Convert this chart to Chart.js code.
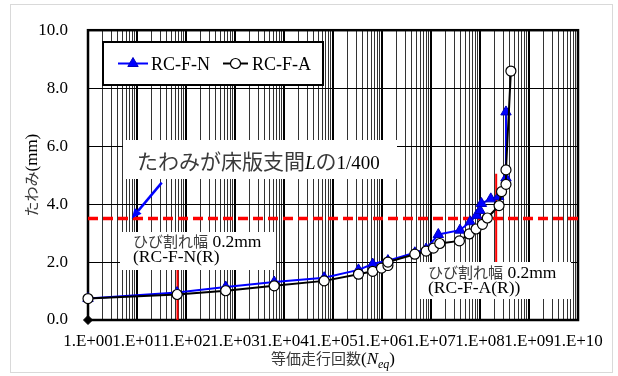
<!DOCTYPE html>
<html>
<head>
<meta charset="utf-8">
<script src="https://cdn.jsdelivr.net/npm/chart.js@4.4.1/dist/chart.umd.min.js"></script>
<style>
html,body{margin:0;padding:0;background:#fff}
#wrap{width:618px;height:376px}
canvas{display:block}
</style>
</head>
<body>
<div id="wrap"><canvas id="c" width="618" height="376"></canvas></div>
<script>
// Deflection vs. equivalent number of passes for two RC deck specimens
const seriesNames = ['RC-F-N', 'RC-F-A'];

const rcfnCycles = [1, 66, 646, 6310, 66100, 331000, 646000, 1.32e6, 4.68e6, 7.94e6,
  1.41e7, 3.9e7, 6.3e7, 8.5e7, 1.0e8, 1.07e8, 1.66e8, 2.4e8, 3.39e8, 3.39e8];
const rcfnDeflection = [0.74, 0.95, 1.14, 1.31, 1.46, 1.73, 1.93, 2.05, 2.32, 2.45,
  2.95, 3.10, 3.39, 3.61, 3.78, 4.02, 4.18, 4.26, 4.90, 7.18];

const rcfaCycles = [1, 66, 646, 6310, 66100, 331000, 646000, 977000, 1.32e6, 1.32e6,
  4.68e6, 7.94e6, 1.12e7, 1.51e7, 3.8e7, 6.03e7, 8.32e7, 1.12e8, 1.41e8, 2.45e8,
  2.75e8, 3.39e8, 3.39e8, 4.27e8];
const rcfaDeflection = [0.74, 0.88, 1.01, 1.18, 1.35, 1.58, 1.68, 1.79, 1.88, 2.00,
  2.27, 2.38, 2.48, 2.64, 2.73, 2.97, 3.14, 3.30, 3.52, 3.95,
  4.43, 4.68, 5.18, 8.59];

const xTickLabels = ['1.E+00', '1.E+01', '1.E+02', '1.E+03', '1.E+04', '1.E+05',
  '1.E+06', '1.E+07', '1.E+08', '1.E+09', '1.E+10'];
const yTickLabels = ['0.0', '2.0', '4.0', '6.0', '8.0', '10.0'];

// deflection limit: span L / 400
const limitDeflection = 3.5;
// 0.2 mm crack width reached (cycles, deflection range of the marker line)
const crackN = { cycles: 67, from: 0, to: 2.5 };
const crackA = { cycles: 2.14e8, from: 2.0, to: 5.05 };
// arrow pointing at the limit line (cycles, deflection)
const arrowFrom = [32, 4.74];
const arrowTo = [7.8, 3.5];

const SERIF = '"Liberation Serif", "Times New Roman", serif';
const CJK = '"Noto Sans CJK JP", sans-serif';
const CJK_COLOR = '#3a3a3a';

const toPoints = (xs, ys) => xs.map((x, i) => ({ x: x, y: ys[i] }));

// log ticks: 1..9 per decade, labels only on decades
const decadeValues = xTickLabels.map((_, i) => Math.pow(10, i));
const xTickValues = [];
decadeValues.forEach((d, i) => {
  if (i === decadeValues.length - 1) { xTickValues.push(d); return; }
  for (let k = 1; k <= 9; k++) xTickValues.push(k * d);
});
const decadeIndex = v => {
  const e = Math.round(Math.log10(v));
  return Math.abs(v - Math.pow(10, e)) < 1e-6 * Math.pow(10, e) ? e : -1;
};

function drawRuns(ctx, runs, x, baseline) {
  for (const r of runs) {
    ctx.font = r.font;
    ctx.fillStyle = r.color || '#000';
    ctx.fillText(r.t, x, baseline + (r.dy || 0));
    x += ctx.measureText(r.t).width;
  }
  return x;
}
function runsWidth(ctx, runs) {
  let w = 0;
  for (const r of runs) { ctx.font = r.font; w += ctx.measureText(r.t).width; }
  return w;
}
function triangle(ctx, x, y, r) {
  ctx.beginPath();
  let rad = 0;
  for (let k = 0; k < 3; k++) {
    const px = x + Math.sin(rad) * r, py = y - Math.cos(rad) * r;
    if (k === 0) ctx.moveTo(px, py); else ctx.lineTo(px, py);
    rad += Math.PI * 2 / 3;
  }
  ctx.closePath();
}

const decorations = {
  id: 'decorations',
  beforeDraw(chart) {
    const ctx = chart.ctx;
    ctx.save();
    ctx.fillStyle = '#fff';
    ctx.fillRect(0, 0, chart.width, chart.height);
    ctx.strokeStyle = '#d9d9d9';
    ctx.lineWidth = 1;
    ctx.strokeRect(10.5, 4.5, 602, 368);
    ctx.restore();
  },
  beforeDatasetsDraw(chart) {
    const ctx = chart.ctx, a = chart.chartArea;
    ctx.save();
    ctx.strokeStyle = '#000';
    ctx.lineWidth = 2.5;
    ctx.strokeRect(a.left, a.top, a.right - a.left, a.bottom - a.top);
    ctx.restore();
  },
  afterDatasetsDraw(chart) {
    const ctx = chart.ctx;
    const xs = chart.scales.x, ys = chart.scales.y;
    ctx.save();
    ctx.textBaseline = 'alphabetic';
    ctx.textAlign = 'left';

    // legend
    const dsN = chart.data.datasets[1], dsA = chart.data.datasets[0];
    ctx.fillStyle = '#fff';
    ctx.fillRect(103, 42, 220, 43);
    ctx.strokeStyle = '#000';
    ctx.lineWidth = 2;
    ctx.strokeRect(103, 42, 220, 43);
    const ly = 63.5;
    ctx.lineWidth = dsN.borderWidth;
    ctx.strokeStyle = dsN.borderColor;
    ctx.beginPath(); ctx.moveTo(118, ly); ctx.lineTo(148, ly); ctx.stroke();
    triangle(ctx, 133, ly, dsN.pointRadius);
    ctx.fillStyle = dsN.pointBackgroundColor; ctx.fill();
    ctx.lineWidth = 1; ctx.strokeStyle = dsN.pointBorderColor; ctx.stroke();
    drawRuns(ctx, [{ t: dsN.label, font: '18px ' + SERIF }], 151, 70);
    ctx.lineWidth = dsA.borderWidth;
    ctx.strokeStyle = dsA.borderColor;
    ctx.beginPath(); ctx.moveTo(223, ly); ctx.lineTo(248, ly); ctx.stroke();
    ctx.beginPath(); ctx.arc(235.5, ly, dsA.pointRadius, 0, Math.PI * 2);
    ctx.fillStyle = dsA.pointBackgroundColor; ctx.fill();
    ctx.lineWidth = 1.2; ctx.strokeStyle = dsA.pointBorderColor; ctx.stroke();
    drawRuns(ctx, [{ t: dsA.label, font: '18px ' + SERIF }], 252, 70);

    // limit note + arrow
    ctx.fillStyle = '#fff';
    ctx.fillRect(123, 140, 274, 39);
    drawRuns(ctx, [
      { t: 'たわみが床版支間', font: '21px ' + CJK, color: CJK_COLOR },
      { t: 'L', font: 'italic 19px ' + SERIF },
      { t: 'の', font: '21px ' + CJK, color: CJK_COLOR },
      { t: '1/400', font: '19px ' + SERIF }
    ], 137, 169);

    const x0 = xs.getPixelForValue(arrowFrom[0]), y0 = ys.getPixelForValue(arrowFrom[1]);
    const x1 = xs.getPixelForValue(arrowTo[0]), y1 = ys.getPixelForValue(arrowTo[1]);
    const ang = Math.atan2(y1 - y0, x1 - x0);
    const hl = 10, hw = 4.5;
    const bx = x1 - Math.cos(ang) * hl, by = y1 - Math.sin(ang) * hl;
    ctx.strokeStyle = '#0000ff';
    ctx.lineWidth = 2.5;
    ctx.beginPath(); ctx.moveTo(x0, y0); ctx.lineTo(bx, by); ctx.stroke();
    ctx.fillStyle = '#0000ff';
    ctx.beginPath();
    ctx.moveTo(x1, y1);
    ctx.lineTo(bx + Math.sin(ang) * hw, by - Math.cos(ang) * hw);
    ctx.lineTo(bx - Math.sin(ang) * hw, by + Math.cos(ang) * hw);
    ctx.closePath(); ctx.fill();

    // crack width notes
    ctx.fillStyle = '#fff';
    ctx.fillRect(120, 232, 156, 38);
    drawRuns(ctx, [
      { t: 'ひび割れ幅', font: '15px ' + CJK, color: CJK_COLOR },
      { t: ' 0.2mm', font: '17.5px ' + SERIF }
    ], 133, 247);
    drawRuns(ctx, [{ t: '(RC-F-N(R)', font: '17.5px ' + SERIF }], 133, 262);

    ctx.fillStyle = '#fff';
    ctx.fillRect(417, 262, 154, 37);
    drawRuns(ctx, [
      { t: 'ひび割れ幅', font: '15px ' + CJK, color: CJK_COLOR },
      { t: ' 0.2mm', font: '17.5px ' + SERIF }
    ], 428, 278);
    drawRuns(ctx, [{ t: '(RC-F-A(R))', font: '17.5px ' + SERIF }], 428, 293);

    ctx.restore();
  },
  afterDraw(chart) {
    const ctx = chart.ctx, a = chart.chartArea;
    ctx.save();
    ctx.textBaseline = 'alphabetic';
    ctx.textAlign = 'left';
    // x axis title
    const xr = [
      { t: '等価走行回数', font: '15px ' + CJK, color: CJK_COLOR },
      { t: '(', font: '17px ' + SERIF },
      { t: 'N', font: 'italic 17px ' + SERIF },
      { t: 'eq', font: 'italic 12px ' + SERIF, dy: 4 },
      { t: ')', font: '17px ' + SERIF }
    ];
    const cx = (a.left + a.right) / 2;
    drawRuns(ctx, xr, cx - runsWidth(ctx, xr) / 2, 364);
    // y axis title
    const yr = [
      { t: 'たわみ', font: '15px ' + CJK, color: CJK_COLOR },
      { t: '(mm)', font: '17px ' + SERIF }
    ];
    ctx.translate(37, (a.top + a.bottom) / 2);
    ctx.rotate(-Math.PI / 2);
    drawRuns(ctx, yr, -runsWidth(ctx, yr) / 2, 0);
    ctx.restore();
  }
};

new Chart(document.getElementById('c'), {
  type: 'scatter',
  data: {
    datasets: [
      {
        label: seriesNames[1],
        data: toPoints(rcfaCycles, rcfaDeflection),
        showLine: true,
        borderColor: '#000',
        borderWidth: 2,
        pointStyle: 'circle',
        pointRadius: 5,
        pointBackgroundColor: '#fff',
        pointBorderColor: '#000',
        pointBorderWidth: 1.2,
        tension: 0,
        clip: false,
        order: 1
      },
      {
        label: seriesNames[0],
        data: toPoints(rcfnCycles, rcfnDeflection),
        showLine: true,
        borderColor: '#0000ff',
        borderWidth: 2,
        pointStyle: 'triangle',
        pointRadius: 6,
        pointBackgroundColor: '#0000ff',
        pointBorderColor: '#0000c0',
        pointBorderWidth: 1,
        tension: 0,
        clip: false,
        order: 2
      },
      {
        label: 'L/400',
        data: [{ x: decadeValues[0], y: limitDeflection }, { x: decadeValues[decadeValues.length - 1], y: limitDeflection }],
        showLine: true,
        borderColor: '#ff0000',
        borderWidth: 3.5,
        borderDash: [10, 5],
        pointRadius: 0,
        order: 3
      },
      {
        label: 'crack RC-F-N',
        data: [{ x: crackN.cycles, y: crackN.from }, { x: crackN.cycles, y: crackN.to }],
        showLine: true,
        borderColor: '#ff0000',
        borderWidth: 2,
        pointRadius: 0,
        order: 4
      },
      {
        label: 'crack RC-F-A',
        data: [{ x: crackA.cycles, y: crackA.from }, { x: crackA.cycles, y: crackA.to }],
        showLine: true,
        borderColor: '#ff0000',
        borderWidth: 2,
        pointRadius: 0,
        order: 4
      },
      {
        label: 'origin',
        data: [{ x: decadeValues[0], y: 0 }],
        pointStyle: 'rectRot',
        pointRadius: 4.5,
        pointBackgroundColor: '#000',
        pointBorderColor: '#000',
        clip: false,
        order: 0
      }
    ]
  },
  options: {
    responsive: false,
    animation: false,
    devicePixelRatio: 1,
    layout: { padding: { left: 0, right: 40, top: 23, bottom: 0 } },
    plugins: { legend: { display: false }, tooltip: { enabled: false } },
    scales: {
      x: {
        type: 'logarithmic',
        min: 1,
        max: 1e10,
        afterBuildTicks: s => { s.ticks = xTickValues.map(v => ({ value: v })); },
        afterFit: s => { s.height = 56; },
        border: { display: false },
        grid: {
          drawTicks: false,
          color: ctx => decadeIndex(ctx.tick.value) >= 0 ? '#000' : '#333',
          lineWidth: ctx => decadeIndex(ctx.tick.value) >= 0 ? 2 : 1
        },
        ticks: {
          autoSkip: false,
          maxRotation: 0,
          minRotation: 0,
          padding: 11,
          color: '#000',
          font: { family: SERIF, size: 17 },
          callback: v => { const e = decadeIndex(v); return e >= 0 ? xTickLabels[e] : ''; }
        }
      },
      y: {
        type: 'linear',
        min: 0,
        max: 10,
        afterBuildTicks: s => { s.ticks = yTickLabels.map(t => ({ value: parseFloat(t) })); },
        afterFit: s => { s.width = 88; },
        border: { display: false },
        grid: { drawTicks: false, color: '#000', lineWidth: 1 },
        ticks: {
          padding: 20,
          color: '#000',
          font: { family: SERIF, size: 17 },
          callback: (v, i) => yTickLabels[i]
        }
      }
    }
  },
  plugins: [decorations]
});
</script>
</body>
</html>
